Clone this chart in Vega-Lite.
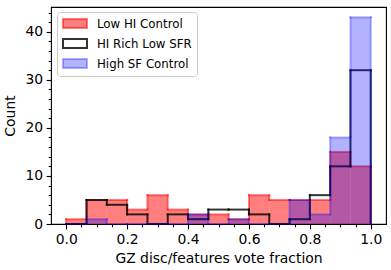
{
  "$schema": "https://vega.github.io/schema/vega-lite/v6.json",
  "width": 335,
  "height": 217,
  "autosize": {"type": "none"},
  "padding": {"left": 51, "top": 7, "right": 5, "bottom": 46},
  "config": {
    "font": "DejaVu Sans",
    "view": {"stroke": "#000000", "strokeWidth": 1.1},
    "axis": {
      "grid": false, "domain": false, "tickColor": "#000000", "tickWidth": 1.1,
      "labelColor": "#000000", "titleColor": "#000000", "labelFont": "DejaVu Sans", "titleFont": "DejaVu Sans",
      "labelFontSize": 13.9, "titleFontSize": 13.9, "titleFontWeight": "normal", "labelFlush": false
    },
    "legend": {
      "orient": "none", "legendX": 6, "legendY": 5, "title": null,
      "symbolType": "M-1,-0.375H1V0.375H-1Z", "symbolSize": 576, "symbolStrokeWidth": 2,
      "labelFont": "DejaVu Sans", "labelFontSize": 11.8, "labelColor": "#000000", "labelOffset": 9,
      "clipHeight": 13, "rowPadding": 6, "padding": 5,
      "fillColor": "rgba(255,255,255,0.8)", "strokeColor": "#cccccc", "cornerRadius": 3
    }
  },
  "data": {"values": [
    {"series": "Low HI Control", "start": 0, "end": 0.0667, "count": 1},
    {"series": "Low HI Control", "start": 0.0667, "end": 0.1333, "count": 5},
    {"series": "Low HI Control", "start": 0.1333, "end": 0.2, "count": 5},
    {"series": "Low HI Control", "start": 0.2, "end": 0.2667, "count": 3},
    {"series": "Low HI Control", "start": 0.2667, "end": 0.3333, "count": 6},
    {"series": "Low HI Control", "start": 0.3333, "end": 0.4, "count": 3},
    {"series": "Low HI Control", "start": 0.4, "end": 0.4667, "count": 2},
    {"series": "Low HI Control", "start": 0.4667, "end": 0.5333, "count": 2},
    {"series": "Low HI Control", "start": 0.5333, "end": 0.6, "count": 1},
    {"series": "Low HI Control", "start": 0.6, "end": 0.6667, "count": 6},
    {"series": "Low HI Control", "start": 0.6667, "end": 0.7333, "count": 5},
    {"series": "Low HI Control", "start": 0.7333, "end": 0.8, "count": 5},
    {"series": "Low HI Control", "start": 0.8, "end": 0.8667, "count": 5},
    {"series": "Low HI Control", "start": 0.8667, "end": 0.9333, "count": 15},
    {"series": "Low HI Control", "start": 0.9333, "end": 1, "count": 12},
    {"series": "HI Rich Low SFR", "start": 0, "end": 0.0667, "count": 0},
    {"series": "HI Rich Low SFR", "start": 0.0667, "end": 0.1333, "count": 5},
    {"series": "HI Rich Low SFR", "start": 0.1333, "end": 0.2, "count": 4},
    {"series": "HI Rich Low SFR", "start": 0.2, "end": 0.2667, "count": 2},
    {"series": "HI Rich Low SFR", "start": 0.2667, "end": 0.3333, "count": 0},
    {"series": "HI Rich Low SFR", "start": 0.3333, "end": 0.4, "count": 2},
    {"series": "HI Rich Low SFR", "start": 0.4, "end": 0.4667, "count": 1},
    {"series": "HI Rich Low SFR", "start": 0.4667, "end": 0.5333, "count": 3},
    {"series": "HI Rich Low SFR", "start": 0.5333, "end": 0.6, "count": 3},
    {"series": "HI Rich Low SFR", "start": 0.6, "end": 0.6667, "count": 2},
    {"series": "HI Rich Low SFR", "start": 0.6667, "end": 0.7333, "count": 0},
    {"series": "HI Rich Low SFR", "start": 0.7333, "end": 0.8, "count": 1},
    {"series": "HI Rich Low SFR", "start": 0.8, "end": 0.8667, "count": 6},
    {"series": "HI Rich Low SFR", "start": 0.8667, "end": 0.9333, "count": 12},
    {"series": "HI Rich Low SFR", "start": 0.9333, "end": 1, "count": 32},
    {"series": "High SF Control", "start": 0, "end": 0.0667, "count": 0},
    {"series": "High SF Control", "start": 0.0667, "end": 0.1333, "count": 1},
    {"series": "High SF Control", "start": 0.1333, "end": 0.2, "count": 0},
    {"series": "High SF Control", "start": 0.2, "end": 0.2667, "count": 0},
    {"series": "High SF Control", "start": 0.2667, "end": 0.3333, "count": 0},
    {"series": "High SF Control", "start": 0.3333, "end": 0.4, "count": 0},
    {"series": "High SF Control", "start": 0.4, "end": 0.4667, "count": 2},
    {"series": "High SF Control", "start": 0.4667, "end": 0.5333, "count": 0},
    {"series": "High SF Control", "start": 0.5333, "end": 0.6, "count": 1},
    {"series": "High SF Control", "start": 0.6, "end": 0.6667, "count": 0},
    {"series": "High SF Control", "start": 0.6667, "end": 0.7333, "count": 0},
    {"series": "High SF Control", "start": 0.7333, "end": 0.8, "count": 5},
    {"series": "High SF Control", "start": 0.8, "end": 0.8667, "count": 2},
    {"series": "High SF Control", "start": 0.8667, "end": 0.9333, "count": 18},
    {"series": "High SF Control", "start": 0.9333, "end": 1, "count": 43}
  ]},
  "transform": [
    {"window": [{"op": "lag", "field": "count", "as": "prev"}], "groupby": ["series"], "sort": [{"field": "start", "order": "ascending"}]}
  ],
  "encoding": {
    "x": {"field": "start", "type": "quantitative", "scale": {"domain": [-0.05, 1.05]}, "axis": null},
    "y": {"field": "count", "type": "quantitative", "scale": {"domain": [0, 45.15]}, "axis": null}
  },
  "layer": [
    {
      "transform": [{"filter": "datum.series === 'Low HI Control'"}],
      "mark": {"type": "rect", "fill": "rgba(255,0,0,0.5)", "strokeWidth": 0},
      "encoding": {
        "x": {"field": "start", "type": "quantitative", "axis": {"orient": "bottom", "values": [0, 0.2, 0.4, 0.6, 0.8, 1.0], "format": ".1f", "title": "GZ disc/features vote fraction", "tickSize": 4.9, "labelPadding": 3.5, "titlePadding": 5}},
        "x2": {"field": "end"},
        "y": {"field": "count", "type": "quantitative", "axis": {"orient": "left", "values": [0, 10, 20, 30, 40], "title": "Count", "tickSize": 4.9, "labelPadding": 3.5, "titlePadding": 7}},
        "y2": {"datum": 0}
      }
    },
    {
      "transform": [{"filter": "datum.series === 'Low HI Control'"}],
      "mark": {"type": "rule", "strokeWidth": 2, "strokeCap": "square"},
      "encoding": {
        "x": {"field": "start", "type": "quantitative", "axis": {"orient": "bottom", "values": [0.05, 0.1, 0.15, 0.25, 0.3, 0.35, 0.45, 0.5, 0.55, 0.65, 0.7, 0.75, 0.85, 0.9, 0.95], "labels": false, "title": null, "tickSize": 2.8}},
        "x2": {"field": "end"},
        "y": {"field": "count", "type": "quantitative", "axis": {"orient": "left", "values": [2, 4, 6, 8, 12, 14, 16, 18, 22, 24, 26, 28, 32, 34, 36, 38, 42, 44], "labels": false, "title": null, "tickSize": 2.8}},
        "stroke": {
          "field": "series", "type": "nominal",
          "scale": {"domain": ["Low HI Control", "HI Rich Low SFR", "High SF Control"], "range": ["rgba(255,0,0,0.5)", "rgba(0,0,0,0.8)", "rgba(0,0,255,0.3)"]},
          "legend": {
            "encode": {"symbols": {"update": {
              "fill": {"signal": "datum.value === 'Low HI Control' ? 'rgba(255,0,0,0.5)' : datum.value === 'High SF Control' ? 'rgba(0,0,255,0.3)' : 'rgba(0,0,0,0)'"},
              "stroke": {"signal": "datum.value === 'Low HI Control' ? 'rgba(255,0,0,0.5)' : datum.value === 'High SF Control' ? 'rgba(0,0,255,0.3)' : 'rgba(0,0,0,0.8)'"},
              "strokeWidth": {"value": 2}
            }}}
          }
        }
      }
    },
    {
      "transform": [{"filter": "datum.series === 'Low HI Control' && datum.prev !== null"}],
      "mark": {"type": "rule", "strokeWidth": 2, "strokeCap": "square"},
      "encoding": {
        "y": {"field": "prev", "type": "quantitative", "axis": null},
        "y2": {"field": "count"},
        "stroke": {"field": "series", "type": "nominal"}
      }
    },
    {
      "transform": [
        {"filter": "datum.series === 'Low HI Control'"},
        {"fold": ["start", "end"], "as": ["edge", "xpos"]},
        {"filter": "(datum.edge === 'start' && datum.start === 0) || (datum.edge === 'end' && datum.end === 1)"}
      ],
      "mark": {"type": "rule", "strokeWidth": 2, "strokeCap": "square"},
      "encoding": {
        "x": {"field": "xpos", "type": "quantitative", "axis": null},
        "y2": {"datum": 0},
        "stroke": {"field": "series", "type": "nominal"}
      }
    },
    {
      "transform": [{"filter": "datum.series === 'HI Rich Low SFR'"}],
      "mark": {"type": "rule", "strokeWidth": 2, "strokeCap": "square"},
      "encoding": {
        "x2": {"field": "end"},
        "stroke": {"field": "series", "type": "nominal"}
      }
    },
    {
      "transform": [{"filter": "datum.series === 'HI Rich Low SFR' && datum.prev !== null"}],
      "mark": {"type": "rule", "strokeWidth": 2, "strokeCap": "square"},
      "encoding": {
        "y": {"field": "prev", "type": "quantitative", "axis": null},
        "y2": {"field": "count"},
        "stroke": {"field": "series", "type": "nominal"}
      }
    },
    {
      "transform": [
        {"filter": "datum.series === 'HI Rich Low SFR'"},
        {"fold": ["start", "end"], "as": ["edge", "xpos"]},
        {"filter": "(datum.edge === 'start' && datum.start === 0) || (datum.edge === 'end' && datum.end === 1)"}
      ],
      "mark": {"type": "rule", "strokeWidth": 2, "strokeCap": "square"},
      "encoding": {
        "x": {"field": "xpos", "type": "quantitative", "axis": null},
        "y2": {"datum": 0},
        "stroke": {"field": "series", "type": "nominal"}
      }
    },
    {
      "transform": [{"filter": "datum.series === 'High SF Control'"}],
      "mark": {"type": "rect", "fill": "rgba(0,0,255,0.3)", "strokeWidth": 0},
      "encoding": {
        "x2": {"field": "end"},
        "y2": {"datum": 0}
      }
    },
    {
      "transform": [{"filter": "datum.series === 'High SF Control'"}],
      "mark": {"type": "rule", "strokeWidth": 2, "strokeCap": "square"},
      "encoding": {
        "x2": {"field": "end"},
        "stroke": {"field": "series", "type": "nominal"}
      }
    },
    {
      "transform": [{"filter": "datum.series === 'High SF Control' && datum.prev !== null"}],
      "mark": {"type": "rule", "strokeWidth": 2, "strokeCap": "square"},
      "encoding": {
        "y": {"field": "prev", "type": "quantitative", "axis": null},
        "y2": {"field": "count"},
        "stroke": {"field": "series", "type": "nominal"}
      }
    },
    {
      "transform": [
        {"filter": "datum.series === 'High SF Control'"},
        {"fold": ["start", "end"], "as": ["edge", "xpos"]},
        {"filter": "(datum.edge === 'start' && datum.start === 0) || (datum.edge === 'end' && datum.end === 1)"}
      ],
      "mark": {"type": "rule", "strokeWidth": 2, "strokeCap": "square"},
      "encoding": {
        "x": {"field": "xpos", "type": "quantitative", "axis": null},
        "y2": {"datum": 0},
        "stroke": {"field": "series", "type": "nominal"}
      }
    }
  ],
  "resolve": {"axis": {"x": "independent", "y": "independent"}}
}
